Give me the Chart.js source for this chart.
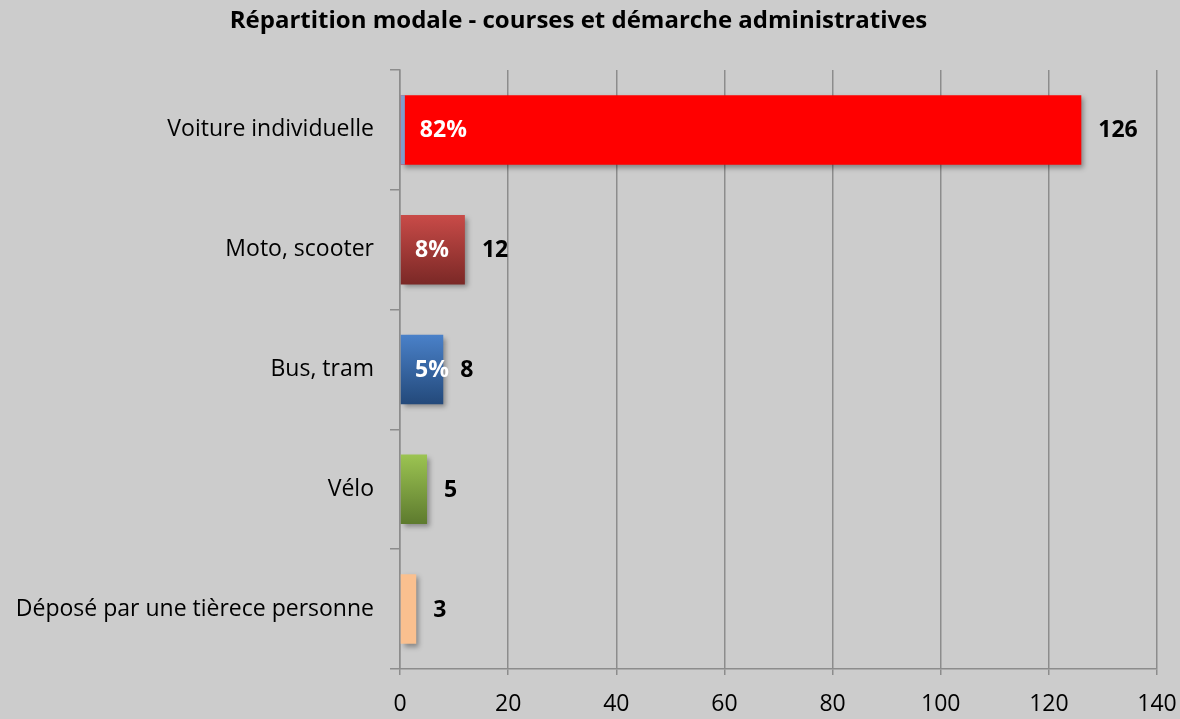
<!DOCTYPE html>
<html>
<head>
<meta charset="utf-8">
<script src="https://cdn.jsdelivr.net/npm/chart.js@4.4.0/dist/chart.umd.min.js"></script>
<style>
html,body{margin:0;padding:0;background:#cccccc;}
#wrap{position:relative;width:1180px;height:719px;}
</style>
</head>
<body>
<div id="wrap"><canvas id="c"></canvas></div>
<script>
const chartTitle = "Répartition modale - courses et démarche administratives";
const categories = ["Voiture individuelle","Moto, scooter","Bus, tram","Vélo","Déposé par une tièrece personne"];
const counts = [126, 12, 8, 5, 3];
const percentLabels = ["82%", "8%", "5%", "", ""];
const sliverValues = [0.9, 0, 0, 0, 0];
const xTicks = [0, 20, 40, 60, 80, 100, 120, 140];

const FONT = "'Open Sans', 'Liberation Sans', sans-serif";
const barStyles = [
  {top:"#ff0000", bottom:"#ff0000"},
  {top:"#c94b48", bottom:"#7a2826"},
  {top:"#4a81c9", bottom:"#23497a"},
  {top:"#9cc452", bottom:"#5d7a2e"},
  {top:"#fac08f", bottom:"#fac08f"}
];

function barColor(ctx){
  const chart = ctx.chart;
  const i = ctx.dataIndex;
  const st = barStyles[i];
  if (!chart.chartArea || st.top === st.bottom) return st.top;
  const y = chart.scales.y.getPixelForValue(i);
  const half = 35;
  const g = chart.ctx.createLinearGradient(0, y - half, 0, y + half);
  g.addColorStop(0, st.top);
  g.addColorStop(1, st.bottom);
  return g;
}

const shadowPlugin = {
  id: 'shadowPlugin',
  beforeDatasetDraw(chart, args){
    if (args.index === 1){
      const c = chart.ctx;
      c.save();
      c.shadowColor = 'rgba(0,0,0,0.35)';
      c.shadowBlur = 5;
      c.shadowOffsetX = 3;
      c.shadowOffsetY = 3;
    }
  },
  afterDatasetDraw(chart, args){
    if (args.index === 1) chart.ctx.restore();
  }
};

const labelPlugin = {
  id: 'labelPlugin',
  afterDatasetsDraw(chart){
    const c = chart.ctx;
    const meta = chart.getDatasetMeta(1);
    const xs = chart.scales.x;
    c.save();
    c.textBaseline = 'middle';
    c.textAlign = 'left';
    meta.data.forEach((bar, i) => {
      c.font = "bold 23px " + FONT;
      c.fillStyle = '#000000';
      c.fillText(String(counts[i]), bar.x + 17, bar.y + 1);
      if (percentLabels[i]){
        const start = xs.getPixelForValue(sliverValues[i]);
        c.fillStyle = '#ffffff';
        c.fillText(percentLabels[i], start + 15, bar.y + 1);
      }
    });
    c.restore();
  }
};

new Chart(document.getElementById('c'), {
  type: 'bar',
  data: {
    labels: categories,
    datasets: [
      {
        label: 'base',
        data: sliverValues,
        backgroundColor: '#819dcc',
        grouped: false,
        categoryPercentage: 1,
        barPercentage: 0.58
      },
      {
        label: 'Nombre',
        data: counts,
        backgroundColor: barColor,
        grouped: false,
        categoryPercentage: 1,
        barPercentage: 0.58
      }
    ]
  },
  options: {
    indexAxis: 'y',
    responsive: true,
    maintainAspectRatio: false,
    animation: false,
    layout: { padding: { left: 0, right: 23, top: 0, bottom: 0 } },
    plugins: {
      legend: { display: false },
      tooltip: { enabled: false },
      title: {
        display: true,
        text: chartTitle,
        color: '#000000',
        font: { family: FONT, size: 24, weight: 'bold' },
        padding: { top: 7, bottom: 34.2 }
      }
    },
    scales: {
      x: {
        min: 0, max: 140,
        afterBuildTicks(scale){ scale.ticks = xTicks.map(v => ({value: v})); },
        afterFit(scale){ scale.height = 50; scale.paddingLeft = 0; scale.paddingRight = 0; },
        grid: { color: '#8c8c8c', lineWidth: 1.5, tickLength: 6, drawTicks: true },
        border: { color: '#8c8c8c', width: 1.5 },
        ticks: { color: '#000000', font: { family: FONT, size: 23 }, padding: 16, maxRotation: 0 }
      },
      y: {
        offset: true,
        afterFit(scale){ scale.width = 400; scale.paddingTop = 0; scale.paddingBottom = 0; },
        grid: { offset: true, drawOnChartArea: false, drawTicks: true, tickLength: 10, color: '#8c8c8c', lineWidth: 1.5 },
        border: { color: '#8c8c8c', width: 1.5 },
        ticks: { color: '#000000', font: { family: FONT, size: 23 }, padding: 16 }
      }
    }
  },
  plugins: [shadowPlugin, labelPlugin]
});
</script>
</body>
</html>
